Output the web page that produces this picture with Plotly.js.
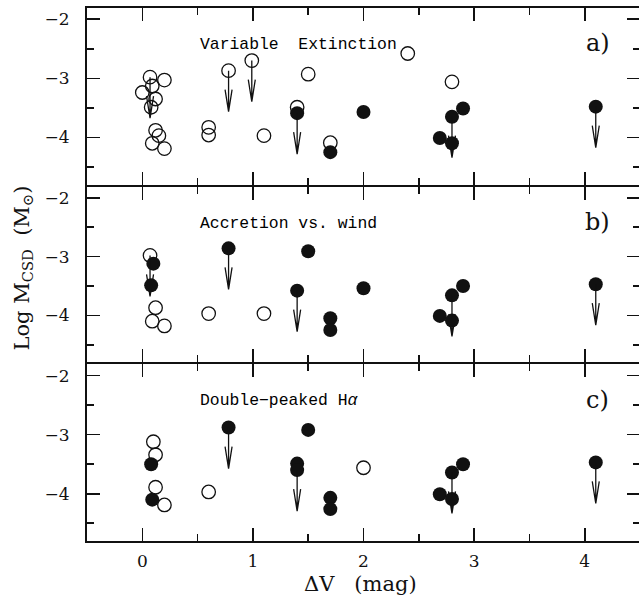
<!DOCTYPE html>
<html>
<head>
<meta charset="utf-8">
<script src="https://cdn.plot.ly/plotly-3.0.1.min.js"></script>
<style>html,body{margin:0;padding:0;overflow:hidden;background:#fff}</style>
</head>
<body>
<div id="chart" style="width:640px;height:601px"></div>
<script>
// Panel a) Variable Extinction
const aOpenX = [0.07, 0.20, 0.09, 0.00, 0.12, 0.08, 0.12, 0.15, 0.09, 0.20, 0.60, 0.60, 0.78, 0.99, 1.10, 1.50, 1.40, 1.70, 2.40, 2.80];
const aOpenY = [-2.98, -3.03, -3.13, -3.24, -3.35, -3.49, -3.88, -3.97, -4.10, -4.19, -3.83, -3.96, -2.87, -2.70, -3.97, -2.93, -3.49, -4.09, -2.58, -3.06];
const aOpenLim = [1, 0, 0, 0, 0, 0, 0, 0, 0, 0, 0, 0, 1, 1, 0, 0, 0, 0, 0, 0];
const aFillX = [1.40, 1.70, 2.00, 2.90, 2.80, 2.69, 2.80, 4.10];
const aFillY = [-3.59, -4.25, -3.57, -3.51, -3.65, -4.01, -4.10, -3.48];
const aFillLim = [1, 0, 0, 0, 1, 0, 0, 1];

// Panel b) Accretion vs. wind
const bOpenX = [0.07, 0.12, 0.09, 0.20, 0.60, 1.10];
const bOpenY = [-2.98, -3.87, -4.10, -4.18, -3.97, -3.97];
const bOpenLim = [1, 0, 0, 0, 0, 0];
const bFillX = [0.10, 0.08, 0.78, 1.50, 1.40, 1.70, 1.70, 2.00, 2.90, 2.80, 2.69, 2.80, 4.10];
const bFillY = [-3.12, -3.49, -2.86, -2.91, -3.58, -4.05, -4.25, -3.54, -3.50, -3.66, -4.01, -4.09, -3.47];
const bFillLim = [0, 0, 1, 0, 1, 0, 0, 0, 0, 1, 0, 0, 1];

// Panel c) Double-peaked H-alpha
const cOpenX = [0.10, 0.12, 0.12, 0.20, 0.60, 2.00];
const cOpenY = [-3.12, -3.34, -3.89, -4.19, -3.97, -3.56];
const cOpenLim = [0, 0, 0, 0, 0, 0];
const cFillX = [0.08, 0.09, 0.78, 1.50, 1.40, 1.40, 1.70, 1.70, 2.90, 2.80, 2.69, 2.80, 4.10];
const cFillY = [-3.50, -4.10, -2.88, -2.92, -3.49, -3.60, -4.07, -4.26, -3.50, -3.64, -4.01, -4.09, -3.47];
const cFillLim = [0, 0, 1, 0, 0, 1, 0, 0, 0, 1, 0, 0, 1];

const panelTitles = ["Variable\u00a0\u00a0Extinction", "Accretion vs. wind", "Double\u2212peaked H<i>\u03b1</i>"];
const panelTags = ["a)", "b)", "c)"];
const xTickVals = [0, 1, 2, 3, 4];
const yTickVals = [-2, -3, -4];

const panels = [
  {ox: aOpenX, oy: aOpenY, ol: aOpenLim, fx: aFillX, fy: aFillY, fl: aFillLim},
  {ox: bOpenX, oy: bOpenY, ol: bOpenLim, fx: bFillX, fy: bFillY, fl: bFillLim},
  {ox: cOpenX, oy: cOpenY, ol: cOpenLim, fx: cFillX, fy: cFillY, fl: cFillLim}
];

const serif = "DejaVu Serif, serif";
const mono = "Liberation Mono, monospace";
const ink = "#111";

const traces = [];
const shapes = [];
const annotations = [];
const arrowPath = "M0,0L0,-41M-3.5,-19L0,-41L3.5,-19";

panels.forEach((p, i) => {
  const xr = i === 0 ? "x" : "x" + (i + 1);
  const yr = i === 0 ? "y" : "y" + (i + 1);
  traces.push({
    type: "scatter", mode: "markers", x: p.ox, y: p.oy, xaxis: xr, yaxis: yr,
    marker: {symbol: "circle-open", size: 13.5, color: ink, line: {width: 1.3, color: ink}},
    hoverinfo: "skip", showlegend: false
  });
  traces.push({
    type: "scatter", mode: "markers", x: p.fx, y: p.fy, xaxis: xr, yaxis: yr,
    marker: {symbol: "circle", size: 14, color: ink, line: {width: 0}},
    hoverinfo: "skip", showlegend: false
  });
  const addArrows = (xs, ys, ls) => {
    xs.forEach((xv, k) => {
      if (!ls[k]) return;
      shapes.push({
        type: "path", xref: xr, yref: yr,
        xsizemode: "pixel", ysizemode: "pixel",
        xanchor: xv, yanchor: ys[k],
        path: arrowPath,
        line: {color: ink, width: 1.3}
      });
    });
  };
  addArrows(p.ox, p.oy, p.ol);
  addArrows(p.fx, p.fy, p.fl);
  annotations.push({
    xref: xr, yref: yr, x: 0.5, y: -2.43, xanchor: "left", yanchor: "middle",
    text: panelTitles[i], showarrow: false,
    font: {family: mono, size: 16.4, color: "#000"}
  });
  annotations.push({
    xref: xr, yref: yr, x: 4.12, y: -2.41, xanchor: "center", yanchor: "middle",
    text: panelTags[i], showarrow: false,
    font: {family: serif, size: 24, color: ink}
  });
});

annotations.push({
  xref: "paper", yref: "paper", x: 0, y: 0.5, xshift: -65, yshift: 6,
  xanchor: "center", yanchor: "middle", textangle: -90,
  text: "Log M<sub>CSD</sub>\u00a0\u00a0(M<sub>\u2299</sub>)", showarrow: false,
  font: {family: serif, size: 21, color: ink}
});
annotations.push({
  xref: "paper", yref: "paper", x: 0.494, y: 0, yshift: -43,
  xanchor: "center", yanchor: "middle",
  text: "\u0394V\u00a0\u00a0\u00a0(mag)", showarrow: false,
  font: {family: serif, size: 21, color: ink}
});

function xAxis(anchor, showLabels) {
  return {
    anchor: anchor, range: [-0.5, 4.5], tickvals: xTickVals,
    showticklabels: showLabels, ticks: "inside", ticklen: 13, tickwidth: 1.6, tickcolor: ink,
    minor: {ticks: "inside", ticklen: 7, tickwidth: 1.6, tickcolor: ink, dtick: 0.5, tick0: 0},
    showline: true, linewidth: 2, linecolor: ink, mirror: "ticks",
    showgrid: false, zeroline: false, ticklabelstandoff: 4,
    tickfont: {family: serif, size: 17, color: ink}
  };
}
function yAxis(anchor, domain) {
  return {
    anchor: anchor, domain: domain, range: [-4.8, -1.81], tickvals: yTickVals,
    ticks: "inside", ticklen: 13, tickwidth: 1.6, tickcolor: ink,
    minor: {ticks: "inside", ticklen: 7, tickwidth: 1.6, tickcolor: ink, dtick: 0.5, tick0: 0},
    showline: true, linewidth: 2, linecolor: ink, mirror: "ticks",
    showgrid: false, zeroline: false, ticklabelstandoff: 12,
    tickfont: {family: serif, size: 17, color: ink}
  };
}

const g = 2 / 533;
const layout = {
  width: 640, height: 601,
  margin: {l: 87, r: 0, t: 8, b: 60},
  paper_bgcolor: "#fff", plot_bgcolor: "#fff",
  showlegend: false,
  xaxis: xAxis("y", false),
  xaxis2: xAxis("y2", false),
  xaxis3: xAxis("y3", true),
  yaxis: yAxis("x", [2 / 3 + g / 2, 1]),
  yaxis2: yAxis("x2", [1 / 3 + g / 2, 2 / 3 - g / 2]),
  yaxis3: yAxis("x3", [0, 1 / 3 - g / 2]),
  shapes: shapes,
  annotations: annotations
};

Plotly.newPlot("chart", traces, layout, {staticPlot: true, displayModeBar: false});
</script>
</body>
</html>
